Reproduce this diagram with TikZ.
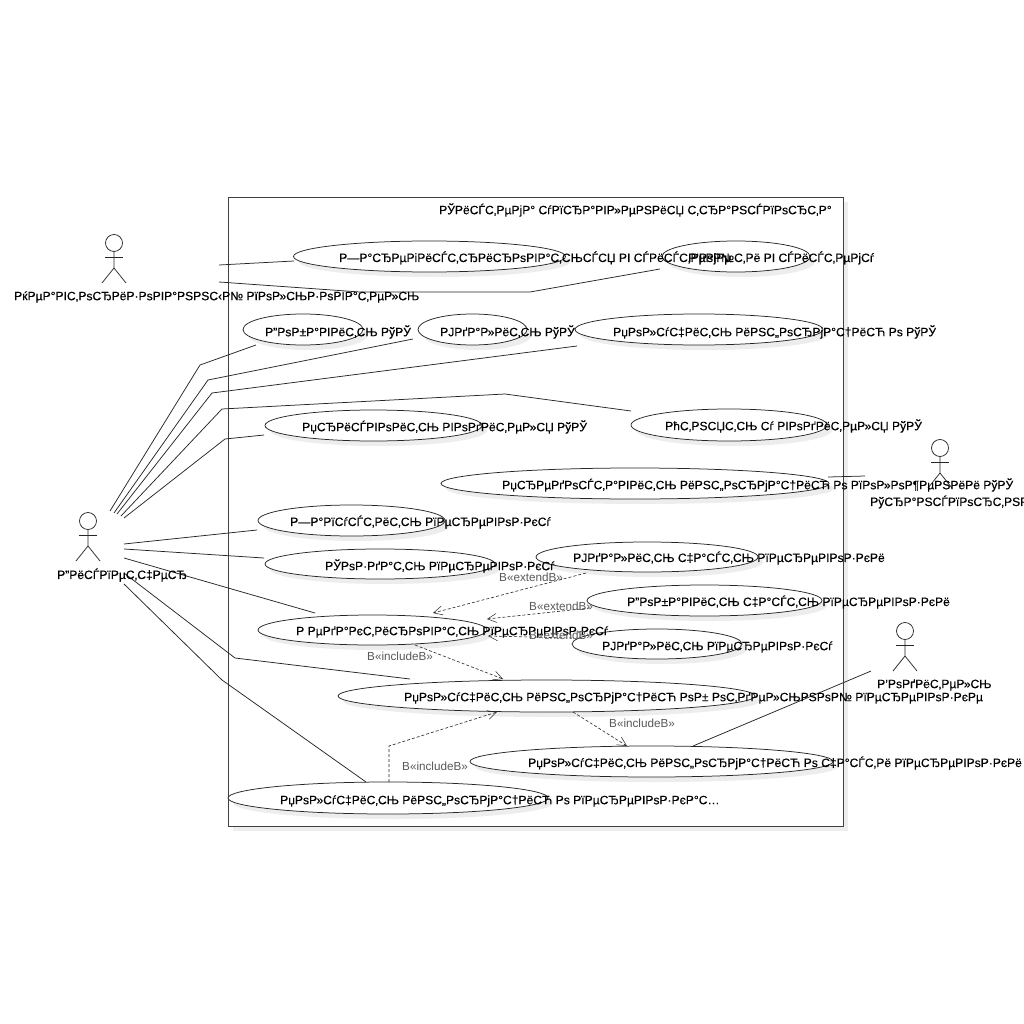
\documentclass[tikz,border=0pt]{standalone}
\usepackage{fontspec}
\setmainfont{Liberation Sans}
\newfontfamily\ucfont[FakeBold=0.25]{Liberation Sans}
\usetikzlibrary{shapes.geometric,shadows,arrows.meta}
\tikzset{
  x=1pt,y=-1pt,
  line/.style={draw=black!85,line width=0.75pt},
  uc/.style={ellipse,draw=black!85,line width=0.75pt,fill=white,inner sep=0pt,
    drop shadow={shadow xshift=5pt,shadow yshift=-5pt,opacity=1,fill=black!7}},
  sysframe/.style={rectangle,draw=black!75,line width=0.9pt,fill=white,inner sep=0pt,
    drop shadow={shadow xshift=5pt,shadow yshift=-5pt,opacity=1,fill=black!7}},
  ucl/.style={anchor=west,inner sep=0pt,yshift=-1pt,font=\ucfont\fontsize{12.1}{14}\selectfont,text=black},
  ste/.style={anchor=west,inner sep=0pt,font=\fontsize{11.7}{14}\selectfont,text=black!65},
  head/.style={circle,draw=black!85,line width=0.75pt,minimum size=17pt,inner sep=0pt},
  dep/.style={draw=black!85,line width=0.6pt,densely dashed,-{Straight Barb[length=9pt,width=9pt,line width=0.5pt]}},
}
\newcommand{\stickman}[3]{%
  \node[head] (#1) at (#2,#3) {};
  \draw[line] (#1.south) -- ([shift={(0,25)}]#1.center)
     -- ([shift={(-12,40)}]#1.center);
  \draw[line] ([shift={(0,25)}]#1.center) -- ([shift={(12,40)}]#1.center);
  \draw[line] ([shift={(-9,14)}]#1.center) -- ([shift={(9,14)}]#1.center);
}
\newcommand{\usecase}[6]{% name, cx, cy, w, h, unused
  \node[uc,minimum width=#4pt,minimum height=#5pt] (#1) at (#2,#3) {};
}
\begin{document}
\begin{tikzpicture}
\useasboundingbox (0,0) rectangle (1024,1024);
\node[sysframe,minimum width=615pt,minimum height=629pt] (sys) at (535.5,511.5) {};
% use cases
\usecase{reg}{429.5}{256.5}{272}{31}{}
\usecase{login}{736}{256.5}{148}{31}{}
\usecase{addv}{303}{329.5}{120}{31}{}
\usecase{delv}{472.5}{329.5}{109}{31}{}
\usecase{infv}{699}{329.5}{248}{31}{}
\usecase{assign}{373.5}{425.5}{217}{31}{}
\usecase{take}{729}{425}{196}{32}{}
\usecase{pos}{635}{483.5}{388}{31}{}
\usecase{start}{351.5}{520.5}{187}{31}{}
\usecase{create}{380}{564}{230}{30}{}
\usecase{edit}{372.5}{630}{229}{30}{}
\usecase{delp}{647}{557}{222}{30}{}
\usecase{addp}{704.5}{600.5}{235}{31}{}
\usecase{deltr}{657}{644}{170}{30}{}
\usecase{infone}{546.5}{696}{417}{32}{}
\usecase{infp}{651.5}{761.5}{363}{31}{}
\usecase{infall}{388}{798}{320}{32}{}
% actors
\stickman{guest}{114}{243}
\stickman{disp}{88}{521}
\stickman{veh}{940}{448}
\stickman{drv}{905}{631}
% associations
\draw[line] ([shift={(105,22)}]guest.center) -- ([shift={(-135.5,4.5)}]reg.center);
\draw[line] ([shift={(105,39)}]guest.center) -- (360,292) -- (530,292) -- ([shift={(-76,12.5)}]login.center);
\draw[line] ([shift={(22,-10)}]disp.center) -- (200,365) -- ([shift={(-47,15.5)}]addv.center);
\draw[line] ([shift={(26,-8)}]disp.center) -- (208,380) -- ([shift={(-59.5,9.5)}]delv.center);
\draw[line] ([shift={(29,-7)}]disp.center) -- (212,393) -- ([shift={(-122,16.5)}]infv.center);
\draw[line] ([shift={(33,-5)}]disp.center) -- (222,409) -- (505,394) -- ([shift={(-98,-14)}]take.center);
\draw[line] ([shift={(36,-3)}]disp.center) -- (225,439) -- ([shift={(-109.5,9.5)}]assign.center);
\draw[line] ([shift={(36,23)}]disp.center) -- ([shift={(-94.5,9.5)}]start.center);
\draw[line] ([shift={(36,28)}]disp.center) -- ([shift={(-116,-6)}]create.center);
\draw[line] ([shift={(36,37)}]disp.center) -- ([shift={(-57.5,-17)}]edit.center);
\draw[line] ([shift={(36,52)}]disp.center) -- (235,658) -- ([shift={(-136.5,-17)}]infone.center);
\draw[line] ([shift={(36,63)}]disp.center) -- (222,680) -- ([shift={(-22,-16)}]infall.center);
\draw[line] ([shift={(-75,28)}]veh.center) -- ([shift={(193,-6.5)}]pos.center);
\draw[line] ([shift={(-34,40)}]drv.center) -- ([shift={(41.5,-15.5)}]infp.center);
% dependencies
\draw[dep] ([shift={(-61,16)}]delp.center) -- ([shift={(60.5,-17)}]edit.center);
\draw[dep] ([shift={(-114.5,7.5)}]addp.center) -- ([shift={(114.5,-11)}]edit.center);
\draw[dep] ([shift={(-85,-6)}]deltr.center) -- ([shift={(115.5,6)}]edit.center);
\draw[dep] ([shift={(42.5,15)}]edit.center) -- ([shift={(-43.5,-17)}]infone.center);
\draw[dep] ([shift={(26.5,16)}]infone.center) -- ([shift={(-24.5,-15.5)}]infp.center);
\draw[dep] ([shift={(1,-16)}]infall.center) -- (389,746) -- ([shift={(-49.5,16)}]infone.center);
% texts
\node[ucl] (ttitle) at (439,209) {РЎРёСЃС‚РµРјР° СѓРїСЂР°РІР»РµРЅРёСЏ С‚СЂР°РЅСЃРїРѕСЂС‚Р°};
\node[ucl] (treg) at (339,257) {Р—Р°СЂРµРіРёСЃС‚СЂРёСЂРѕРІР°С‚СЊСЃСЏ РІ СЃРёСЃС‚РµРјРµ};
\node[ucl] (tlogin) at (688,257) {Р’РѕР№С‚Рё РІ СЃРёСЃС‚РµРјСѓ};
\node[ucl] (tguest) at (14,296) {РќРµР°РІС‚РѕСЂРёР·РѕРІР°РЅРЅС‹Р№ РїРѕР»СЊР·РѕРІР°С‚РµР»СЊ};
\node[ucl] (taddv) at (265,331) {Р”РѕР±Р°РІРёС‚СЊ РўРЎ};
\node[ucl] (tdelv) at (440,331) {РЈРґР°Р»РёС‚СЊ РўРЎ};
\node[ucl] (tinfv) at (613,331) {РџРѕР»СѓС‡РёС‚СЊ РёРЅС„РѕСЂРјР°С†РёСЋ Рѕ РўРЎ};
\node[ucl] (tassign) at (302,426) {РџСЂРёСЃРІРѕРёС‚СЊ РІРѕРґРёС‚РµР»СЏ РўРЎ};
\node[ucl] (ttake) at (665,425) {РћС‚РЅСЏС‚СЊ Сѓ РІРѕРґРёС‚РµР»СЏ РўРЎ};
\node[ucl] (tpos) at (502,484) {РџСЂРµРґРѕСЃС‚Р°РІРёС‚СЊ РёРЅС„РѕСЂРјР°С†РёСЋ Рѕ РїРѕР»РѕР¶РµРЅРёРё РўРЎ};
\node[ucl] (tstart) at (290,521) {Р—Р°РїСѓСЃС‚РёС‚СЊ РїРµСЂРµРІРѕР·РєСѓ};
\node[ucl] (tcreate) at (325,565) {РЎРѕР·РґР°С‚СЊ РїРµСЂРµРІРѕР·РєСѓ};
\node[ucl] (tedit) at (296,631) {Р РµРґР°РєС‚РёСЂРѕРІР°С‚СЊ РїРµСЂРµРІРѕР·РєСѓ};
\node[ucl] (tdelp) at (573,557) {РЈРґР°Р»РёС‚СЊ С‡Р°СЃС‚СЊ РїРµСЂРµРІРѕР·РєРё};
\node[ucl] (taddp) at (627,601) {Р”РѕР±Р°РІРёС‚СЊ С‡Р°СЃС‚СЊ РїРµСЂРµРІРѕР·РєРё};
\node[ucl] (tdeltr) at (602,646) {РЈРґР°Р»РёС‚СЊ РїРµСЂРµРІРѕР·РєСѓ};
\node[ucl] (tinfone) at (404,697) {РџРѕР»СѓС‡РёС‚СЊ РёРЅС„РѕСЂРјР°С†РёСЋ РѕР± РѕС‚РґРµР»СЊРЅРѕР№ РїРµСЂРµРІРѕР·РєРµ};
\node[ucl] (tinfp) at (528,762) {РџРѕР»СѓС‡РёС‚СЊ РёРЅС„РѕСЂРјР°С†РёСЋ Рѕ С‡Р°СЃС‚Рё РїРµСЂРµРІРѕР·РєРё};
\node[ucl] (tinfall) at (280,800) {РџРѕР»СѓС‡РёС‚СЊ РёРЅС„РѕСЂРјР°С†РёСЋ Рѕ РїРµСЂРµРІРѕР·РєР°С…};
\node[ucl] (tdisp) at (57,574) {Р”РёСЃРїРµС‚С‡РµСЂ};
\node[ucl] (tveh) at (870,501) {РўСЂР°РЅСЃРїРѕСЂС‚РЅР};
\node[ucl] (tdrv) at (877,684) {Р’РѕРґРёС‚РµР»СЊ};
\node[ste] (s1) at (499,577) {В«extendВ»};
\node[ste] (s2) at (529,606) {В«extendВ»};
\node[ste] (s3) at (529,635) {В«extendВ»};
\node[ste] (s4) at (367,656) {В«includeВ»};
\node[ste] (s5) at (609,723) {В«includeВ»};
\node[ste] (s6) at (402,766) {В«includeВ»};
\end{tikzpicture}
\end{document}
